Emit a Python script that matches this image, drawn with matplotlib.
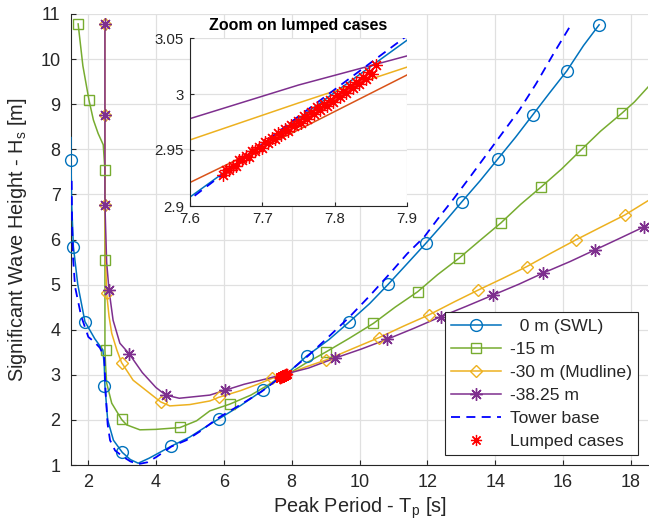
import numpy as np
import matplotlib.pyplot as plt
from matplotlib.lines import Line2D

plt.rcParams['font.family'] = ['Liberation Sans', 'DejaVu Sans']
plt.rcParams['mathtext.default'] = 'regular'

# ---- data ----
# 0 m (SWL)
tp_swl = [1.50, 1.50, 1.52, 1.57, 1.70, 1.91, 2.20, 2.44, 2.48, 2.50, 2.58, 2.75, 3.01, 3.25, 3.48, 3.80,
          4.46, 5.00, 5.50, 5.85, 6.50, 7.16, 7.60, 7.75, 7.90, 8.45, 9.10, 9.68, 10.30, 10.85, 11.40,
          11.96, 12.50, 13.02, 13.55, 14.07, 14.60, 15.10, 15.60, 16.11, 16.60, 17.06]
hs_swl = [8.26, 7.76, 6.80, 5.84, 5.00, 4.18, 3.80, 3.55, 3.20, 2.75, 2.00, 1.55, 1.28, 1.12, 1.04, 1.15,
          1.42, 1.62, 1.86, 2.02, 2.32, 2.66, 2.908, 2.978, 3.048, 3.42, 3.78, 4.16, 4.58, 5.01, 5.46,
          5.92, 6.38, 6.84, 7.30, 7.78, 8.27, 8.76, 9.25, 9.74, 10.30, 10.76]
tp_swl_mk = [1.50, 1.57, 1.91, 2.48, 3.01, 4.46, 5.85, 7.16, 8.45, 9.68, 10.85, 11.96, 13.02, 14.07, 15.10, 16.11, 17.06]
hs_swl_mk = [7.76, 5.84, 4.18, 2.75, 1.28, 1.42, 2.02, 2.66, 3.42, 4.16, 5.01, 5.92, 6.84, 7.78, 8.76, 9.74, 10.76]

# -15 m
tp_15 = [1.71, 1.85, 2.03, 2.16, 2.30, 2.45, 2.50, 2.50, 2.52, 2.55, 2.70, 2.99, 3.14, 3.53, 4.00, 4.71,
         5.20, 5.59, 6.18, 6.80, 7.30, 7.60, 7.75, 7.90, 8.40, 9.02, 9.70, 10.41, 11.05, 11.71, 12.30,
         12.94, 13.55, 14.17, 14.75, 15.36, 15.95, 16.52, 17.10, 17.73, 18.10, 18.50]
hs_15 = [10.78, 9.85, 9.09, 8.65, 8.35, 8.10, 7.54, 3.55, 3.20, 2.82, 2.37, 2.01, 1.89, 1.78, 1.79, 1.83,
         1.98, 2.20, 2.35, 2.55, 2.77, 2.921, 2.968, 3.017, 3.25, 3.51, 3.81, 4.14, 4.50, 4.84, 5.22,
         5.59, 5.98, 6.37, 6.78, 7.17, 7.56, 7.98, 8.40, 8.80, 9.05, 9.38]
tp_15_mk = [1.71, 2.03, 2.50, 2.50, 2.53, 2.99, 4.71, 6.18, 9.02, 10.41, 11.71, 12.94, 14.17, 15.36, 16.52, 17.73]
hs_15_mk = [10.78, 9.09, 7.54, 5.55, 3.55, 2.01, 1.84, 2.35, 3.51, 4.14, 4.84, 5.59, 6.37, 7.17, 7.98, 8.80]

# -30 m (Mudline)
tp_30 = [2.50, 2.50, 2.50, 2.52, 2.55, 2.62, 2.70, 2.85, 2.99, 3.33, 3.82, 4.14, 4.41, 5.00, 5.59, 5.85,
         6.50, 7.00, 7.42, 7.60, 7.75, 7.90, 8.40, 9.02, 9.80, 10.56, 11.30, 12.05, 12.80, 13.50, 14.20,
         14.93, 15.65, 16.37, 17.10, 17.81, 18.50]
hs_30 = [10.78, 8.76, 6.77, 5.50, 4.81, 4.30, 3.92, 3.55, 3.27, 2.88, 2.59, 2.40, 2.31, 2.34, 2.42, 2.50,
         2.65, 2.79, 2.92, 2.959, 2.992, 3.024, 3.17, 3.33, 3.58, 3.82, 4.08, 4.33, 4.62, 4.88, 5.13,
         5.40, 5.70, 5.99, 6.27, 6.54, 6.86]
tp_30_mk = [2.50, 2.50, 2.50, 2.55, 2.99, 4.14, 5.85, 7.42, 9.02, 10.56, 12.05, 13.50, 14.93, 16.37, 17.81]
hs_30_mk = [10.78, 8.76, 6.77, 4.81, 3.27, 2.40, 2.50, 2.92, 3.33, 3.82, 4.33, 4.88, 5.40, 5.99, 6.54]

# -38.25 m
tp_38 = [2.50, 2.50, 2.50, 2.55, 2.62, 2.74, 2.94, 3.21, 3.60, 4.00, 4.29, 4.69, 5.59, 6.05, 6.60, 7.20,
         7.60, 7.75, 7.90, 8.50, 9.28, 10.05, 10.82, 11.60, 12.40, 13.15, 13.94, 14.70, 15.42, 16.20,
         16.94, 17.65, 18.38, 18.50]
hs_38 = [10.78, 8.76, 6.77, 5.50, 4.88, 4.21, 3.70, 3.47, 3.05, 2.72, 2.55, 2.48, 2.55, 2.66, 2.79, 2.90,
         2.978, 3.008, 3.034, 3.15, 3.37, 3.57, 3.79, 4.03, 4.29, 4.52, 4.77, 5.01, 5.26, 5.51,
         5.77, 6.02, 6.28, 6.32]
tp_38_mk = [2.50, 2.50, 2.50, 2.62, 3.21, 4.29, 6.05, 9.28, 10.82, 12.40, 13.94, 15.42, 16.94, 18.38]
hs_38_mk = [10.78, 8.76, 6.77, 4.88, 3.47, 2.55, 2.66, 3.37, 3.79, 4.29, 4.77, 5.26, 5.77, 6.28]

# Tower base
tp_tb = [1.52, 1.53, 1.56, 1.62, 1.80, 2.01, 2.20, 2.35, 2.48, 2.52, 2.58, 2.65, 2.80, 3.04, 3.25, 3.48,
         3.75, 4.02, 4.46, 4.90, 5.29, 5.83, 6.50, 7.10, 7.60, 7.75, 7.90, 8.50, 9.10, 9.70, 10.30,
         10.90, 11.40, 11.91, 12.30, 12.75, 13.25, 13.73, 14.20, 14.71, 15.20, 15.74, 16.23]
hs_tb = [7.30, 6.40, 5.60, 4.95, 4.30, 3.84, 3.72, 3.60, 3.40, 2.60, 1.90, 1.55, 1.32, 1.18, 1.08, 1.02,
         1.06, 1.18, 1.41, 1.55, 1.74, 2.04, 2.34, 2.62, 2.906, 2.980, 3.052, 3.43, 3.85, 4.28, 4.75,
         5.25, 5.68, 6.06, 6.45, 6.88, 7.38, 7.87, 8.35, 8.87, 9.45, 10.15, 10.76]

# Lumped cases
tp_lump = [7.646, 7.650, 7.654, 7.659, 7.663, 7.668, 7.672, 7.677, 7.681, 7.686, 7.690, 7.695, 7.699,
           7.704, 7.708, 7.713, 7.717, 7.722, 7.726, 7.731, 7.735, 7.740, 7.744, 7.749, 7.753, 7.758,
           7.762, 7.767, 7.771, 7.776, 7.780, 7.785, 7.789, 7.794, 7.798, 7.803, 7.807, 7.812, 7.816,
           7.821, 7.825, 7.830, 7.834, 7.839, 7.843, 7.848, 7.852, 7.857]
hs_lump = [2.928, 2.932, 2.932, 2.936, 2.936, 2.941, 2.941, 2.945, 2.944, 2.949, 2.949, 2.953, 2.952,
           2.957, 2.956, 2.961, 2.960, 2.965, 2.963, 2.969, 2.967, 2.972, 2.971, 2.976, 2.974, 2.980,
           2.978, 2.984, 2.982, 2.988, 2.986, 2.991, 2.989, 2.995, 2.993, 2.999, 2.997, 3.003, 3.001,
           3.007, 3.005, 3.011, 3.009, 3.015, 3.013, 3.020, 3.018, 3.026]

labels = ['  0 m (SWL)', '-15 m', '-30 m (Mudline)', '-38.25 m', 'Tower base', 'Lumped cases']

c_blue = '#0072BD'
c_orange = '#D95319'
c_yellow = '#EDB120'
c_purple = '#7E2F8E'
c_green = '#77AC30'
c_ax = '#262626'
c_grid = '#e0e0e0'
star = (8, 2, 0)

fig = plt.figure(figsize=(6.49, 5.30), dpi=100)
ax = fig.add_axes([71/649, 1-465/530, 577/649, 451/530])

series = [
    (tp_swl, hs_swl, tp_swl_mk, hs_swl_mk, c_blue, 'o', 8.5),
    (tp_15, hs_15, tp_15_mk, hs_15_mk, c_green, 's', 6.5),
    (tp_30, hs_30, tp_30_mk, hs_30_mk, c_yellow, 'D', 6.5),
    (tp_38, hs_38, tp_38_mk, hs_38_mk, c_purple, star, 9),
]
handles = []
for tp, hs, tpm, hsm, col, mk, ms in series:
    ax.plot(tp, hs, color=col, lw=1.1, zorder=3)
    ax.plot(tpm, hsm, ls='none', marker=mk, ms=ms, mfc='none', mec=col, mew=1.0,
            clip_on=False, zorder=4)
    handles.append(Line2D([], [], color=col, lw=1.1, marker=mk, ms=ms, mfc='none', mec=col, mew=1.0))

ax.plot(tp_tb, hs_tb, color='#0000FF', lw=1.3, ls=(0, (5, 3.5)), zorder=5)
handles.append(Line2D([], [], color='#0000FF', lw=1.3, ls=(0, (5, 3.5))))
ax.plot(tp_lump, hs_lump, ls='none', marker=star, ms=8, mec='#FF0000', mew=0.9, zorder=6)
handles.append(Line2D([], [], ls='none', marker=star, ms=8, mec='#FF0000', mew=0.9))

ax.set_xlim(1.5, 18.5)
ax.set_ylim(1, 11)
ax.set_xticks(np.arange(2, 19, 2))
ax.set_yticks(np.arange(1, 12, 1))
ax.grid(True, color=c_grid, lw=0.9)
ax.set_axisbelow(True)
for s in ['top', 'right']:
    ax.spines[s].set_visible(False)
for s in ['left', 'bottom']:
    ax.spines[s].set_color(c_ax)
    ax.spines[s].set_linewidth(0.8)
ax.tick_params(direction='in', length=3.5, width=0.8, color=c_ax, labelcolor=c_ax, labelsize=13)
ax.tick_params(axis='x', pad=6.5)
ax.tick_params(axis='y', pad=7.5)
ax.set_xlabel('Peak Period - T$_p$ [s]', fontsize=14.3, color=c_ax, labelpad=3)
ax.set_ylabel('Significant Wave Height - H$_s$ [m]', fontsize=14.3, color=c_ax, labelpad=8)

leg = ax.legend(handles, labels, loc='lower right', fontsize=12.6, handlelength=2.9,
                labelspacing=0.45, borderaxespad=0.55, fancybox=False, framealpha=1,
                edgecolor=c_ax, borderpad=0.35, handletextpad=0.5)
leg.get_frame().set_linewidth(0.8)
for t in leg.get_texts():
    t.set_color(c_ax)

# ---- inset ----
axi = fig.add_axes([190/649, 1-206/530, 217/649, 168/530])
axi.set_facecolor('white')
axi.plot(tp_swl, hs_swl, color=c_blue, lw=1.1)
axi.plot(tp_15, hs_15, color=c_orange, lw=1.1)
axi.plot(tp_30, hs_30, color=c_yellow, lw=1.1)
axi.plot(tp_38, hs_38, color=c_purple, lw=1.1)
axi.plot(tp_tb, hs_tb, color='#0000FF', lw=1.3, ls=(0, (5, 3.5)))
axi.plot(tp_lump, hs_lump, ls='none', marker=star, ms=9, mec='#FF0000', mew=0.9, zorder=6)
axi.set_xlim(7.6, 7.9)
axi.set_ylim(2.9, 3.05)
axi.set_xticks([7.6, 7.7, 7.8, 7.9])
axi.set_xticklabels(['7.6', '7.7', '7.8', '7.9'])
axi.set_yticks([2.9, 2.95, 3.0, 3.05])
axi.set_yticklabels(['2.9', '2.95', '3', '3.05'])
axi.grid(True, color=c_grid, lw=0.9)
axi.set_axisbelow(True)
for s in ['top', 'right']:
    axi.spines[s].set_visible(False)
for s in ['left', 'bottom']:
    axi.spines[s].set_color(c_ax)
    axi.spines[s].set_linewidth(0.8)
axi.tick_params(direction='in', length=3, width=0.8, color=c_ax, labelcolor=c_ax, labelsize=10.8)
axi.tick_params(axis='x', pad=4)
axi.tick_params(axis='y', pad=4.5)
axi.set_title('Zoom on lumped cases', fontsize=11.5, fontweight='bold', pad=6)

fig.savefig('out.png', dpi=100)
